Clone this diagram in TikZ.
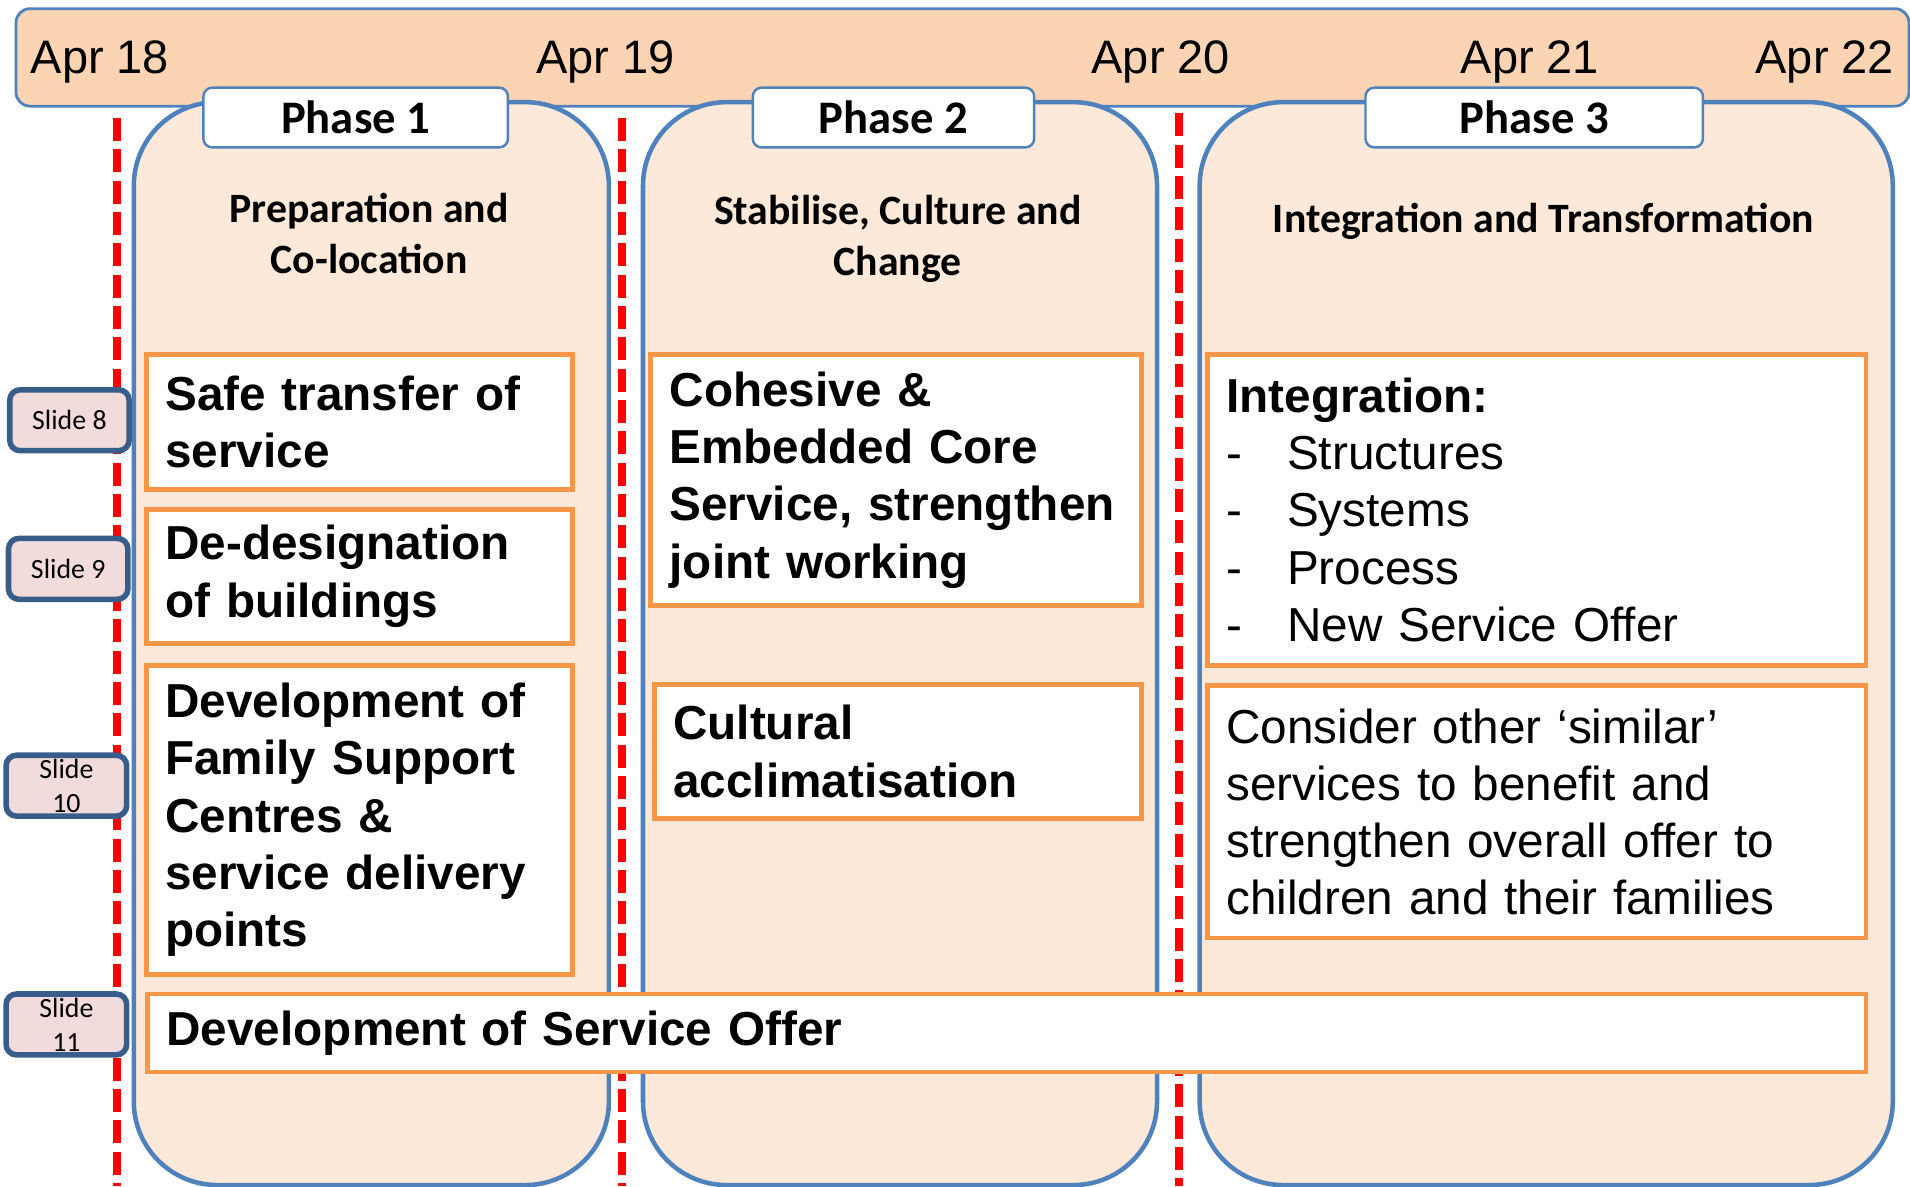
\documentclass[tikz,border=0pt]{standalone}
\usepackage{fontspec}
\setmainfont{Liberation Sans}
\newfontfamily\calibri{Carlito}
\usepackage{tikz}
\definecolor{bannerfill}{HTML}{FBD4B4}
\definecolor{phasefill}{HTML}{FDE9D9}
\definecolor{phaseblue}{HTML}{4F81BD}
\definecolor{taskorange}{HTML}{F79646}
\definecolor{slidefill}{HTML}{F2DCDB}
\definecolor{slideblue}{HTML}{385D8A}
\newcommand\px{0.35pt}
\tikzset{
	%	timeline along the top
	banner/.style={draw=phaseblue,line width=0.8pt,fill=bannerfill,rounded corners=4pt,anchor=north west},
	date/.style={inner sep=0pt,anchor=base,font=\fontsize{13.5}{16}\selectfont},
	%	phases
	phase box/.style={draw=phaseblue,line width=1.3pt,fill=phasefill,rounded corners=24pt,anchor=north west},
	phase label/.style={draw=phaseblue,line width=0.7pt,fill=white,rounded corners=2.5pt,inner sep=0pt,font=\calibri\bfseries\fontsize{13.4}{16}\selectfont},
	subtitle/.style={align=center,inner sep=0pt,font=\calibri\bfseries\fontsize{12}{14.7}\selectfont},
	task/.style={draw=taskorange,line width=1.4pt,fill=white,anchor=north west,align=left,inner xsep=5.5pt,inner ysep=0pt,font=\bfseries\fontsize{13.7}{16.45}\selectfont},
	slide/.style={draw=slideblue,line width=1.6pt,fill=slidefill,rounded corners=3pt,align=center,inner sep=0pt,font=\calibri\fontsize{8}{9.8}\selectfont},
	milestone/.style={red,line width=2.3pt,dash pattern=on 6.6pt off 2.4pt}
}
\begin{document}
\begin{tikzpicture}[x=\px,y=-\px]
	\useasboundingbox (0,0) rectangle (1568,974);
	
	\node[banner,minimum width=1554*\px,minimum height=80*\px] (timeline) at (12,6) {};
	\node[date] (apr18) at (82,60) {Apr 18};
	\node[date] (apr19) at (497,60) {Apr 19};
	\node[date] (apr20) at (953,60) {Apr 20};
	\node[date] (apr21) at (1256,60) {Apr 21};
	\node[date] (apr22) at (1498,60) {Apr 22};
	
	\node[phase box,minimum width=390*\px,minimum height=889*\px] (p1) at (108,82) {};
	\node[phase box,minimum width=422*\px,minimum height=889*\px] (p2) at (526,82) {};
	\node[phase box,minimum width=569*\px,minimum height=889*\px] (p3) at (983,82) {};
	
	\foreach \x/\y in {96/97, 511/97, 968/93}
		\draw[milestone] (\x,\y) -- (\x,974);
	
	\node[phase label,minimum width=250*\px,minimum height=49*\px] (phase1) at (292,96.5) {Phase 1};
	\node[phase label,minimum width=231*\px,minimum height=49*\px] (phase2) at (733.5,96.5) {Phase 2};
	\node[phase label,minimum width=277*\px,minimum height=49*\px] (phase3) at (1259.5,96.5) {Phase 3};
	
	\node[subtitle] (aim1) at (303,192) {Preparation and\\Co-location};
	\node[subtitle] (aim2) at (737,196) {Stabilise, Culture and\\Change};
	\node[subtitle] (aim3) at (1267,182) {Integration and Transformation};
	
	\node[task,text width=111.5pt,minimum height=111*\px] (transfer) at (118,289) {Safe transfer of\\service};
	\node[task,text width=111.5pt,minimum height=110*\px] (buildings) at (118,416) {De-designation\\of buildings};
	\node[task,text width=111.5pt,minimum height=254*\px] (centres) at (118,544) {Development of\\Family Support\\Centres \&\\service delivery\\points};
	\node[task,text width=130pt,minimum height=206*\px] (cohesive) at (532,289) {Cohesive \&\\Embedded Core\\Service, strengthen\\joint working};
	\node[task,text width=129pt,minimum height=110*\px] (culture) at (535,560) {Cultural\\acclimatisation};
	\node[task,text width=178.3pt,minimum height=255*\px] (integration) at (989,289) {Integration:\\\mdseries
		\makebox[17.5pt][l]{-}Structures\\
		\makebox[17.5pt][l]{-}Systems\\
		\makebox[17.5pt][l]{-}Process\\
		\makebox[17.5pt][l]{-}New Service Offer};
	\node[task,text width=178.3pt,minimum height=207*\px] (similar) at (989,561) {\mdseries Consider other ‘similar’\\services to benefit and\\strengthen overall offer to\\children and their families};
	\node[task,text width=482.8pt,minimum height=64*\px] (offer) at (119,814) {Development of Service Offer};
	
	\node[slide,minimum width=98*\px,minimum height=50*\px] (slide8) at (57,345) {Slide 8};
	\node[slide,minimum width=98*\px,minimum height=50*\px] (slide9) at (56,467) {Slide 9};
	\node[slide,minimum width=99*\px,minimum height=50*\px] (slide10) at (54.5,645) {Slide\\10};
	\node[slide,minimum width=99*\px,minimum height=50*\px] (slide11) at (54.5,841) {Slide\\11};
\end{tikzpicture}
\end{document}
